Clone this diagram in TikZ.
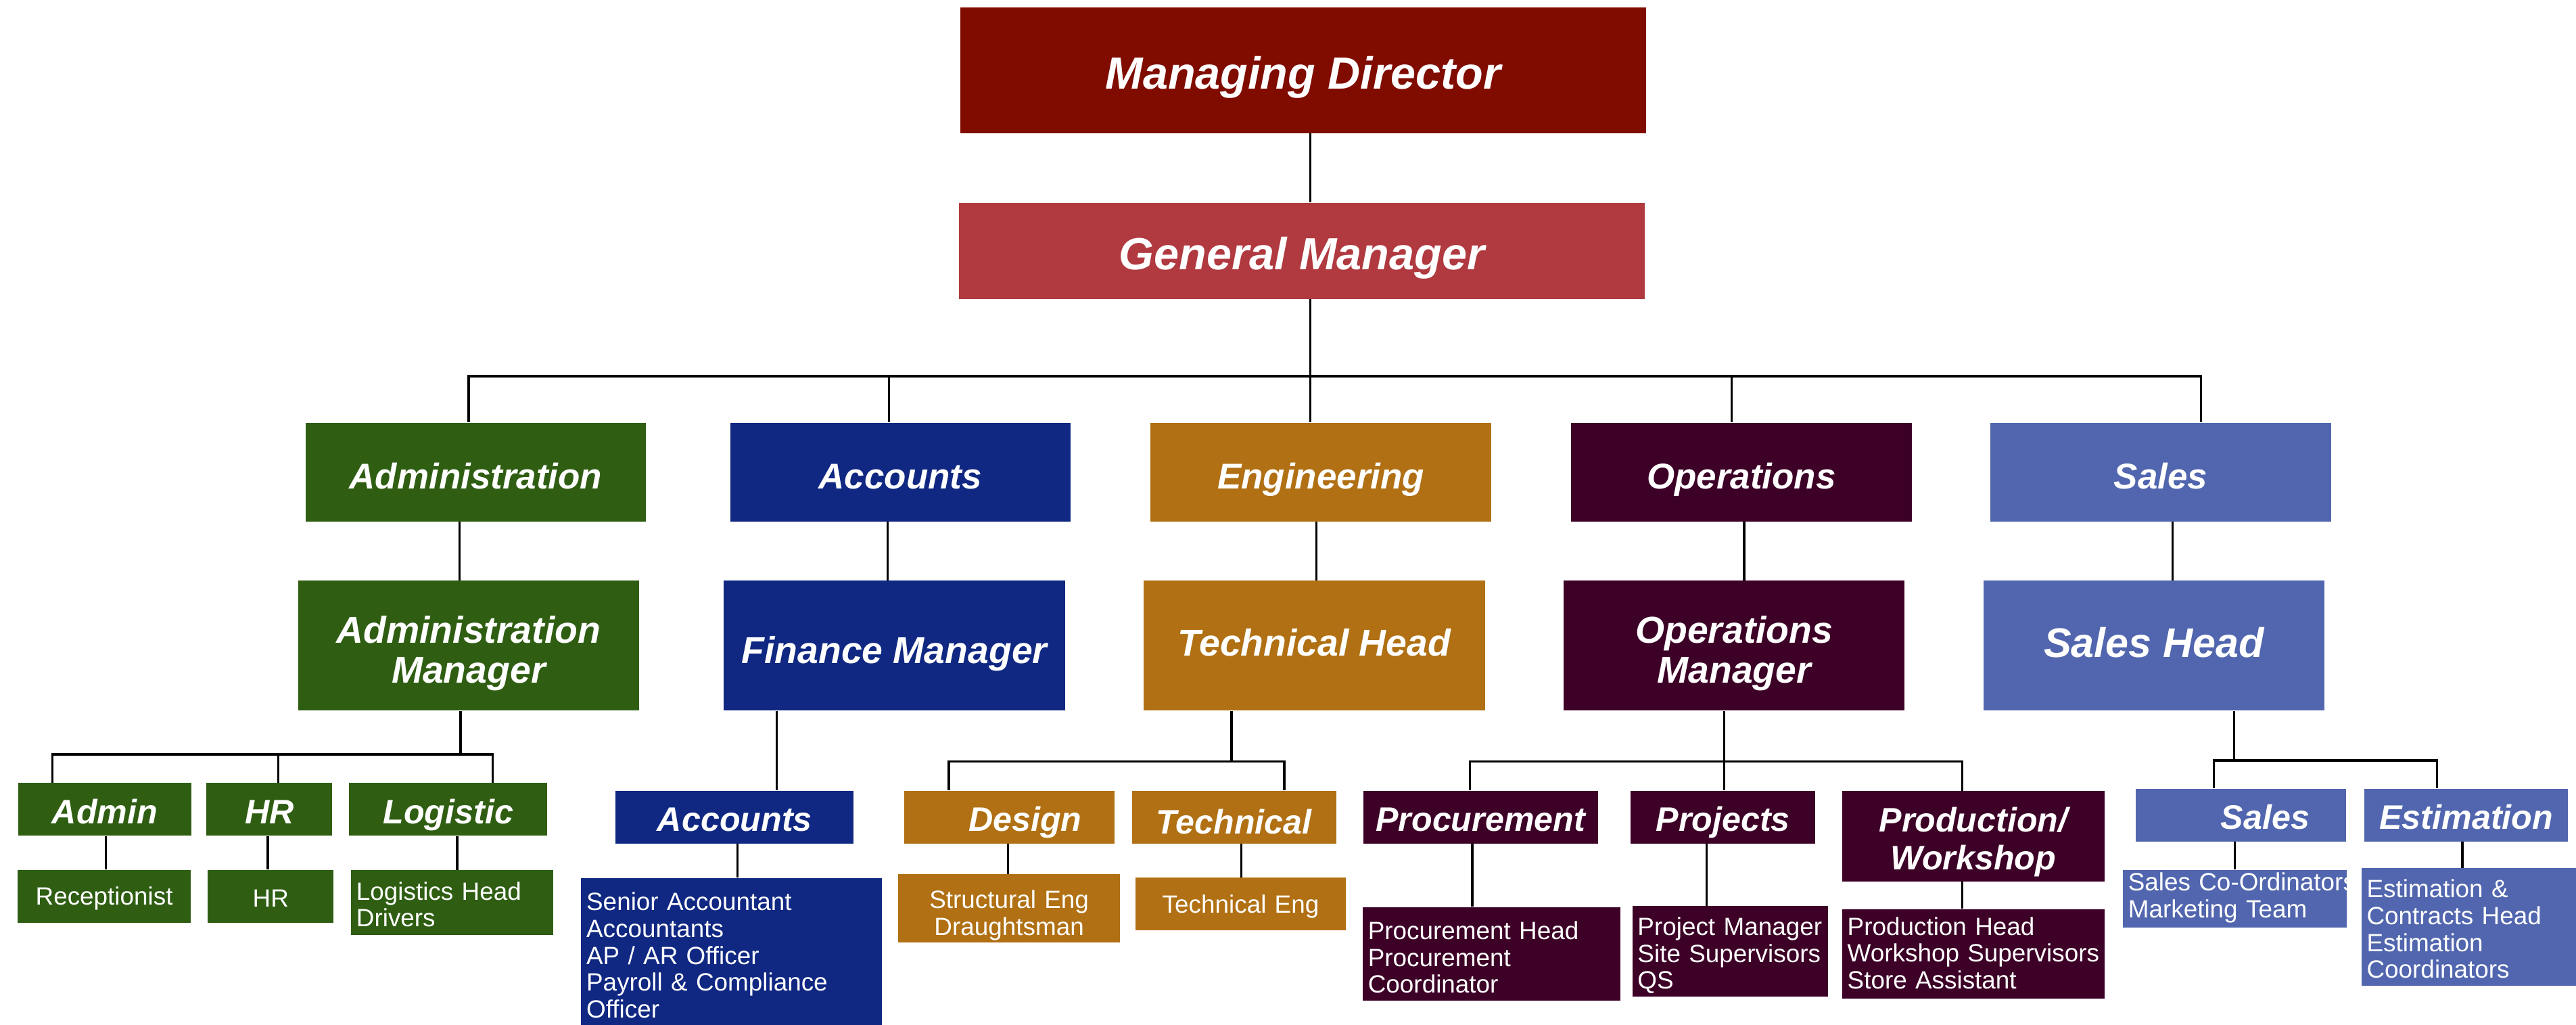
\documentclass[tikz,border=0pt]{standalone}
\usepackage{fontspec}
\setmainfont{Liberation Sans}
\definecolor{mdred}{RGB}{128, 12, 0}
\definecolor{gmred}{RGB}{176, 58, 64}
\definecolor{admgreen}{RGB}{47, 94, 19}
\definecolor{accblue}{RGB}{16, 40, 130}
\definecolor{engorange}{RGB}{176, 112, 19}
\definecolor{opspurple}{RGB}{61, 0, 39}
\definecolor{salesblue}{RGB}{81, 102, 174}
% struts for the first and last line of a box
\newcommand{\lnfirst}[1]{\rule{0pt}{#1}}
\newcommand{\lnlast}{\rule[-0.3em]{0pt}{0.3em}}

\begin{document}
\begin{tikzpicture}[
    head/.style={rectangle, inner sep=0pt, text=white, align=center, minimum width=10.44cm,
        text height=16pt, text depth=0pt, font=\fontsize{19.5}{23}\selectfont\bfseries\itshape},
    dept/.style={rectangle, inner sep=0pt, text=white, align=center, minimum width=5.18cm, minimum height=1.5cm,
        text height=14.6pt, text depth=0pt, font=\fontsize{15.5}{18}\selectfont\bfseries\itshape},
    mgr/.style={rectangle, inner sep=0pt, text=white, align=center, minimum width=5.19cm, minimum height=1.975cm,
        font=\fontsize{16.2}{17.4}\selectfont\bfseries\itshape},
    unit/.style={rectangle, inner sep=0pt, text=white, align=center, minimum height=0.8cm,
        font=\fontsize{14.7}{16.4}\selectfont\bfseries\itshape},
    staff/.style={rectangle, inner xsep=0.08cm, inner ysep=0pt, text=white, align=left,
        font=\fontsize{10.8}{11.6}\selectfont},
    lift/.style={text height=#1, text depth=0pt},
    link/.style={line width=1pt}
]
\useasboundingbox (0,0) rectangle (39.2,-15.59);

% top
\node[head, fill=mdred, minimum height=1.91cm] (md) at (19.83,-1.07) {Managing Director};
\node[head, fill=gmred, minimum height=1.46cm] (gm) at (19.81,-3.815) {General Manager};

% departments
\node[dept, fill=admgreen] (admin) at (7.24,-7.18) {Administration};
\node[dept, fill=accblue] (acc) at (13.70,-7.18) {Accounts};
\node[dept, fill=engorange] (eng) at (20.10,-7.18) {Engineering};
\node[dept, fill=opspurple] (ops) at (26.50,-7.18) {Operations};
\node[dept, fill=salesblue] (sales) at (32.88,-7.18) {Sales};

% managers
\node[mgr, fill=admgreen] (adminmgr) at (7.13,-9.82) {\lnfirst{1.226em}Administration\\Manager\lnlast};
\node[mgr, fill=accblue, lift=15.5pt] (finmgr) at (13.61,-9.82) {Finance Manager};
\node[mgr, fill=engorange, lift=8.9pt] (techhead) at (20.00,-9.82) {Technical Head};
\node[mgr, fill=opspurple] (opsmgr) at (26.39,-9.82) {\lnfirst{1.226em}Operations\\Manager\lnlast};
\node[mgr, fill=salesblue, lift=10.3pt, font=\fontsize{17.9}{20}\selectfont\bfseries\itshape] (saleshead) at (32.78,-9.82) {Sales Head};

% units
\node[unit, fill=admgreen, lift=12.5pt, minimum width=2.64cm] (admunit) at (1.595,-12.31) {Admin};
\node[unit, fill=admgreen, lift=12.5pt, minimum width=1.915cm] (hrunit) at (4.10,-12.31) {HR};
\node[unit, fill=admgreen, lift=12.5pt, minimum width=3.01cm] (logunit) at (6.82,-12.31) {Logistic};
\node[unit, fill=accblue, lift=12.05pt, minimum width=3.62cm] (accunit) at (11.18,-12.43) {Accounts};
\node[unit, fill=engorange, lift=12.05pt, minimum width=3.205cm] (design) at (15.36,-12.43) {\hspace*{0.48cm}Design};
\node[unit, fill=engorange, lift=14.7pt, minimum width=3.11cm] (tech) at (18.78,-12.43) {Technical};
\node[unit, fill=opspurple, lift=12.05pt, minimum width=3.575cm] (procure) at (22.53,-12.43) {Procurement};
\node[unit, fill=opspurple, lift=12.05pt, minimum width=2.81cm] (projects) at (26.22,-12.43) {Projects};
\node[unit, fill=opspurple, minimum width=3.995cm, minimum height=1.375cm] (prod) at (30.03,-12.72) {\lnfirst{1.15em}Production/\\Workshop\lnlast};
\node[unit, fill=salesblue, lift=12.3pt, minimum width=3.20cm] (salesunit) at (34.10,-12.40) {\hspace*{0.74cm}Sales};
\node[unit, fill=salesblue, lift=12.3pt, minimum width=3.095cm] (estim) at (37.53,-12.40) {Estimation};

% staff
\node[staff, fill=admgreen, align=center, lift=7.3pt, text width=2.48cm, minimum height=0.8cm] (recept) at (1.586,-13.635) {Receptionist};
\node[staff, fill=admgreen, align=center, lift=9.3pt, text width=1.755cm, minimum height=0.8cm] (hrstaff) at (4.12,-13.635) {HR};
\node[staff, fill=admgreen, text width=2.915cm, minimum height=0.985cm] (logstaff) at (6.88,-13.73) {\lnfirst{1.17em}Logistics Head\\Drivers\lnlast};
\node[staff, fill=accblue, text width=4.42cm, minimum height=2.2325cm] (accstaff) at (11.134,-14.476)
    {\lnfirst{1.3em}Senior Accountant\\Accountants\\AP / AR Officer\\Payroll \& Compliance\\Officer\lnlast};
\node[staff, fill=engorange, align=center, text width=3.22cm, minimum height=0.94cm] (desstaff) at (15.356,-13.82) {\lnfirst{1.36em}Structural Eng\\Draughtsman\lnlast};
\node[staff, fill=engorange, align=center, lift=7.7pt, text width=3.045cm, minimum height=0.8cm] (techstaff) at (18.88,-13.75) {Technical Eng};
\node[staff, fill=opspurple, text width=3.765cm, minimum height=1.355cm] (procstaff) at (22.70,-14.51) {\lnfirst{1.295em}Procurement Head\\Procurement\\Coordinator\lnlast};
\node[staff, fill=opspurple, text width=2.82cm, minimum height=1.29cm] (projstaff) at (26.33,-14.47) {\lnfirst{1.17em}Project~Manager\\Site~Supervisors\\QS\lnlast};
\node[staff, fill=opspurple, text width=3.835cm, minimum height=1.355cm] (prodstaff) at (30.03,-14.51) {\lnfirst{0.936em}Production Head\\Workshop~Supervisors\\Store Assistant\lnlast};
\node[staff, fill=salesblue, text width=3.25cm, minimum height=0.88cm] (salesstaff) at (34.01,-13.67) {\lnfirst{0.75em}\mbox{Sales Co-Ordinators}\\Marketing Team\lnlast};
\node[staff, fill=salesblue, text width=3.11cm, minimum height=1.74cm] (estimstaff) at (37.57,-14.10) {\lnfirst{1.176em}Estimation \&\\Contracts Head\\Estimation\\Coordinators\lnlast};

% connectors
\draw[link] (md.south -| 19.94,0) -- (gm.north -| 19.94,0);
\foreach \n/\x in {admin/7.13, acc/13.53, eng/19.94, ops/26.35, sales/33.49}
    \draw[link] (gm.south -| 19.94,0) -- ++(0,-1.17) -| (\n.north -| \x,0);
\foreach \a/\b/\x in {admin/adminmgr/6.99, acc/finmgr/13.51, eng/techhead/20.03, ops/opsmgr/26.54, sales/saleshead/33.06}
    \draw[link] (\a.south -| \x,0) -- (\b.north -| \x,0);

\foreach \n/\x in {admunit/0.80, hrunit/4.235, logunit/7.50}
    \draw[link] (adminmgr.south -| 7.01,0) -- ++(0,-0.66) -| (\n.north -| \x,0);
\draw[link] (finmgr.south -| 11.82,0) -- (accunit.north -| 11.82,0);
\foreach \n/\x in {design/14.44, tech/19.545}
    \draw[link] (techhead.south -| 18.74,0) -- ++(0,-0.77) -| (\n.north -| \x,0);
\foreach \n/\x in {procure/22.37, projects/26.235, prod/29.86}
    \draw[link] (opsmgr.south -| 26.235,0) -- ++(0,-0.77) -| (\n.north -| \x,0);
\foreach \n/\x in {salesunit/33.69, estim/37.085}
    \draw[link] (saleshead.south -| 34.00,0) -- ++(0,-0.755) -| (\n.north -| \x,0);

\foreach \a/\b/\x in {admunit/recept/1.6125, hrunit/hrstaff/4.075, logunit/logstaff/6.955, accunit/accstaff/11.22,
    design/desstaff/15.34, tech/techstaff/18.89, procure/procstaff/22.405, projects/projstaff/25.97,
    prod/prodstaff/29.86, salesunit/salesstaff/34.01, estim/estimstaff/37.47}
    \draw[link] (\a.south -| \x,0) -- (\b.north -| \x,0);
\end{tikzpicture}
\end{document}
